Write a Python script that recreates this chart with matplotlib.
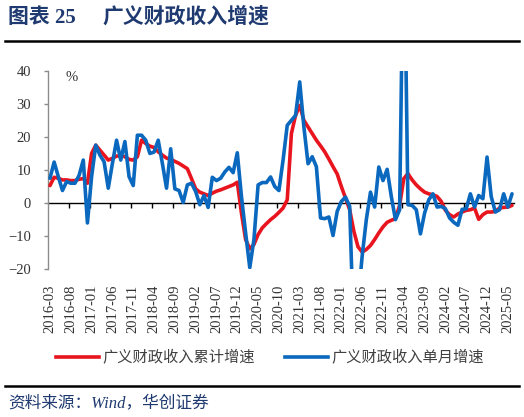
import numpy as np
import pandas as pd
import matplotlib
matplotlib.use("Agg")
import matplotlib.pyplot as plt
from matplotlib.lines import Line2D

plt.rcParams['font.family'] = ['Liberation Serif', 'Noto Sans CJK SC', 'DejaVu Sans']

# monthly categories 2016-03 .. 2025-06
months = pd.period_range('2016-03', '2025-06', freq='M').strftime('%Y-%m').tolist()

# 广义财政收入累计增速 (%)
cum_growth = [
    5.3, 7.8, 7.5, 7.0, 7.0, 6.8, 6.8, 7.2, 7.4, 6.0,
    15.0, 17.5, 16.0, 14.5, 13.0, 13.5, 14.2, 14.3, 14.0, 13.2,
    13.0, 14.0, 19.0, 18.0, 17.2, 16.8, 15.5, 14.5, 13.6, 13.2,
    12.6, 12.0, 11.2, 10.4, 7.4, 4.3, 3.3, 2.8, 2.3, 3.0,
    3.6, 4.0, 4.5, 5.0, 5.5, 6.3, -3.0, -11.0, -13.8, -12.5,
    -9.5, -7.5, -6.2, -5.0, -4.0, -2.8, -1.5, 1.0, 21.0, 26.5,
    29.5, 25.0, 23.0, 21.0, 19.0, 17.3, 15.5, 13.3, 11.0, 8.8,
    5.0, 1.5, -2.0, -8.5, -13.2, -14.8, -14.0, -12.8, -11.0, -9.0,
    -7.2, -5.8, -5.2, -4.7, -0.7, 7.4, 8.9, 7.0, 5.5, 4.3,
    3.3, 2.8, 2.5, 2.0, 0.5, -2.2, -3.5, -4.2, -3.3, -2.7,
    -2.2, -2.0, -1.5, -4.9, -3.5, -2.7, -2.7, -2.5, -1.5, -1.3,
    -1.2, -0.7,
]

# 广义财政收入单月增速 (%)
month_growth = [
    7.5, 12.4, 8.0, 3.8, 6.5, 6.0, 6.0, 8.4, 13.0, -6.0,
    8.0, 17.5, 14.5, 12.5, 4.5, 12.0, 19.0, 13.0, 18.6, 8.0,
    5.3, 20.5, 20.5, 19.0, 15.0, 15.4, 19.0, 12.0, 4.5, 16.4,
    4.3, 3.8, 0.2, 5.5, 6.0, 3.5, -0.5, 2.3, -1.3, 7.8,
    6.8, 7.5, 9.4, 10.8, 9.2, 15.2, 2.0, -9.0, -19.5, -11.0,
    5.5, 6.2, 6.2, 7.9, 5.0, 3.8, 13.0, 23.5, 25.0, 26.5,
    36.6, 23.0, 11.9, 14.0, 11.0, -4.5, -4.7, -4.2, -9.8, -2.5,
    0.5, 1.8, -1.0, -41.0, -30.0, -16.0, -5.0, 3.3, -1.2, 10.9,
    6.8, 10.2, 2.0, -5.0, -2.0, 90.0, -0.5, -0.7, -2.0, -9.3,
    -3.0, 1.0, 2.8, -1.2, -1.0, -1.7, -4.5, -5.8, -6.7, -1.9,
    -1.7, 2.8, -1.2, 2.3, 1.3, 13.9, 2.0, -2.7, -2.0, 2.8,
    -1.2, 2.8,
]

y_ticks = [-20, -10, 0, 10, 20, 30, 40]
label_step = 5

red = '#E8141E'
blue = '#0A68BE'
navy = '#1F3A70'
grey_text = '#333333'

x = np.arange(len(months))

fig = plt.figure(figsize=(5.24, 4.17), dpi=100)
ax = fig.add_axes([0.0914, 0.3542, 0.8897, 0.4763])

ax.plot(x, cum_growth, color=red, lw=2.6, solid_joinstyle='round',
        solid_capstyle='round', zorder=3)
ax.plot(x, month_growth, color=blue, lw=2.6, solid_joinstyle='round',
        solid_capstyle='round', zorder=4)

ax.set_xlim(-0.5, len(months) - 0.5)
ax.set_ylim(-20, 40)

for s in ['top', 'right', 'bottom']:
    ax.spines[s].set_visible(False)
ax.spines['left'].set_color('#8c8c8c')
ax.spines['left'].set_linewidth(1.0)

ax.set_yticks(y_ticks)
ax.tick_params(axis='y', direction='out', length=3, width=1, color='#8c8c8c',
               labelsize=10.5, labelcolor=grey_text, pad=9)

lab_idx = x[::label_step]
ax.set_xticks(lab_idx)
ax.set_xticklabels([months[i] for i in lab_idx], rotation=90, fontsize=10.5,
                   color=grey_text)
ax.tick_params(axis='x', length=0, pad=11)

# zero line with tick marks between categories
sec = ax.secondary_xaxis(1 / 3)
sec.set_xticks(lab_idx[1:] - 0.5)
sec.tick_params(axis='x', direction='out', length=3.5, width=1, color='black',
                labelbottom=False, labeltop=False, bottom=True, top=False)
for s in sec.spines.values():
    s.set_color('black')
    s.set_linewidth(1.0)

ax.text(0.037, 0.968, '%', transform=ax.transAxes, fontsize=10.5,
        color=grey_text, ha='left', va='center')

# title
fig.text(0.015, 0.958, '图表 25', fontsize=15, fontweight='bold', color=navy,
         ha='left', va='center')
fig.text(0.195, 0.958, '广义财政收入增速', fontsize=15, fontweight='bold',
         color=navy, ha='left', va='center')
fig.add_artist(Line2D([0.01, 0.99], [0.902, 0.902], color='black', lw=1.8))

# legend
handles = [Line2D([], [], color=red, lw=2.6),
           Line2D([], [], color=blue, lw=2.6)]
fig.legend(handles, ['广义财政收入累计增速', '广义财政收入单月增速'],
           loc='center', bbox_to_anchor=(0.515, 0.142), ncol=2, frameon=False,
           handlelength=2.8, handletextpad=0.2,
           columnspacing=2.0, labelcolor='#404040',
           prop={'family': ['Noto Sans CJK SC'], 'size': 11})

# footer
fig.add_artist(Line2D([0.01, 0.99], [0.074, 0.074], color='black', lw=1.8))
fig.text(0.015, 0.033, '资料来源：Wind，华创证券', fontsize=12, style='italic',
         color=navy, ha='left', va='center')

fig.savefig('out.png', dpi=100)
